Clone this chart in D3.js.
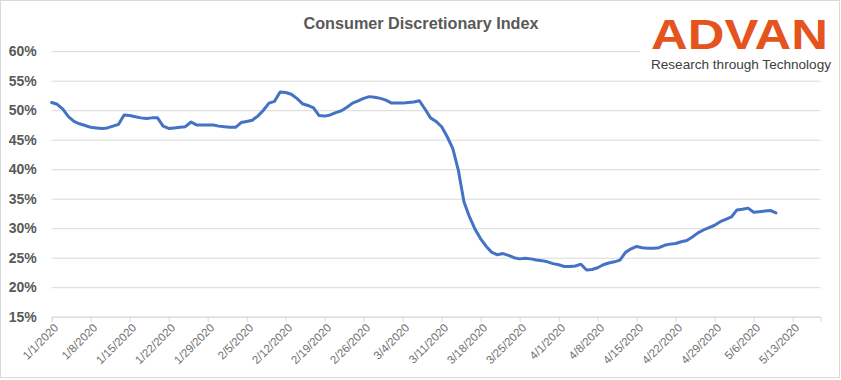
<!DOCTYPE html>
<html>
<head>
<meta charset="utf-8">
<script src="https://cdn.jsdelivr.net/npm/d3@7"></script>
<style>
  html, body { margin: 0; padding: 0; background: #fff; }
  svg { display: block; }
</style>
</head>
<body>
<svg id="chart"></svg>
<script>
// daily index values, starting 1/1/2020 (percent)
const startLabel = '1/1/2020';
const endLabel = '5/18/2020';
const values = [
  51.3, 51.0, 50.2, 48.9, 48.1, 47.7, 47.4, 47.1, 47.0, 46.9,
  47.0, 47.3, 47.6, 49.2, 49.1, 48.9, 48.7, 48.6, 48.7, 48.7,
  47.3, 46.9, 47.0, 47.1, 47.2, 48.0, 47.5, 47.5, 47.5, 47.5,
  47.3, 47.2, 47.1, 47.1, 47.9, 48.1, 48.3, 49.0, 50.0, 51.2,
  51.5, 53.1, 53.0, 52.7, 52.0, 51.1, 50.8, 50.4, 49.1, 49.0,
  49.2, 49.6, 49.9, 50.5, 51.2, 51.6, 52.0, 52.3, 52.2, 52.0,
  51.7, 51.2, 51.2, 51.2, 51.3, 51.4, 51.6, 50.2, 48.7, 48.1,
  47.2, 45.5, 43.5, 39.8, 34.5, 31.9, 29.8, 28.2, 26.9, 25.9,
  25.5, 25.7, 25.4, 25.0, 24.8, 24.9, 24.8, 24.6, 24.5, 24.3,
  24.0, 23.8, 23.5, 23.5, 23.6, 23.9, 22.9, 23.0, 23.3, 23.8,
  24.1, 24.3, 24.6, 25.9, 26.5, 26.9, 26.7, 26.6, 26.6, 26.7,
  27.1, 27.3, 27.4, 27.7, 27.9, 28.5, 29.2, 29.7, 30.1, 30.5,
  31.1, 31.5, 31.9, 33.1, 33.2, 33.4, 32.7, 32.8, 32.9, 33.0,
  32.6
];
const tickLabels = [
  '1/1/2020', '1/8/2020', '1/15/2020', '1/22/2020', '1/29/2020',
  '2/5/2020', '2/12/2020', '2/19/2020', '2/26/2020', '3/4/2020',
  '3/11/2020', '3/18/2020', '3/25/2020', '4/1/2020', '4/8/2020',
  '4/15/2020', '4/22/2020', '4/29/2020', '5/6/2020', '5/13/2020'
];
const yTicks = [15, 20, 25, 30, 35, 40, 45, 50, 55, 60];

const title = 'Consumer Discretionary Index';
const logoText = 'ADVAN';
const logoTag = 'Research through Technology';

const W = 841, H = 380;
const parse = d3.utcParse('%m/%d/%Y');
const fmt = d => (d.getUTCMonth() + 1) + '/' + d.getUTCDate() + '/' + d.getUTCFullYear();

const start = parse(startLabel);
const data = values.map((v, i) => ({date: d3.utcDay.offset(start, i), value: v}));

const svg = d3.select('#chart')
    .attr('width', W)
    .attr('height', H)
    .style('font-family', '"Liberation Sans", Arial, sans-serif');

// chart border
svg.append('rect')
    .attr('x', 0.5).attr('y', 0.5)
    .attr('width', W - 2).attr('height', H - 3)
    .attr('fill', '#fff')
    .attr('stroke', '#d9d9d9');

const x = d3.scaleUtc()
    .domain([start, parse(endLabel)])
    .range([51.7, 820.5]);

const y = d3.scaleLinear()
    .domain([15, 60])
    .range([316.7, 51.2]);

// gridlines + y labels
const yAxis = svg.append('g')
    .attr('transform', 'translate(51.7,0)')
    .call(d3.axisLeft(y)
        .tickValues(yTicks)
        .tickSize(-(x.range()[1] - x.range()[0]))
        .tickPadding(15)
        .tickFormat(d => d + '%'));
yAxis.select('.domain').remove();
yAxis.selectAll('line').attr('stroke', '#d9d9d9');
yAxis.selectAll('text')
    .attr('fill', '#595959')
    .style('font-size', '14px')
    .style('font-weight', 'bold')
    .style('font-family', '"Liberation Sans", Arial, sans-serif');

// x axis
const xAxis = svg.append('g')
    .attr('transform', 'translate(0,' + y(15) + ')')
    .call(d3.axisBottom(x)
        .tickValues(tickLabels.map(parse))
        .tickSize(5)
        .tickFormat(fmt));
xAxis.select('.domain').attr('stroke', '#d9d9d9');
xAxis.selectAll('line').attr('stroke', '#d9d9d9');
xAxis.selectAll('text')
    .attr('fill', '#6f6f6f')
    .attr('x', 0)
    .attr('y', 0)
    .attr('dy', '0.35em')
    .attr('text-anchor', 'end')
    .attr('transform', 'translate(4,9) rotate(-45)')
    .style('font-size', '11.5px')
    .style('font-family', '"Liberation Sans", Arial, sans-serif');

// line
const line = d3.line()
    .x(d => x(d.date))
    .y(d => y(d.value));
svg.append('path')
    .datum(data)
    .attr('fill', 'none')
    .attr('stroke', '#4472c4')
    .attr('stroke-width', 3)
    .attr('stroke-linejoin', 'round')
    .attr('stroke-linecap', 'round')
    .attr('d', line);

// title
svg.append('text')
    .attr('x', 421)
    .attr('y', 29)
    .attr('text-anchor', 'middle')
    .attr('fill', '#595959')
    .style('font-size', '16px')
    .style('font-weight', 'bold')
    .attr('textLength', 235)
    .attr('lengthAdjust', 'spacingAndGlyphs')
    .text(title);

// logo block (white background hides gridline under it)
svg.append('rect')
    .attr('x', 640).attr('y', 8)
    .attr('width', 196).attr('height', 68)
    .attr('fill', '#fff');
svg.append('text')
    .attr('x', 651)
    .attr('y', 49)
    .attr('fill', '#e5531f')
    .style('font-size', '42px')
    .style('font-weight', 'bold')
    .attr('textLength', 177)
    .attr('lengthAdjust', 'spacingAndGlyphs')
    .text(logoText);
svg.append('text')
    .attr('x', 651)
    .attr('y', 69)
    .attr('fill', '#404040')
    .style('font-size', '13.5px')
    .attr('textLength', 180)
    .attr('lengthAdjust', 'spacingAndGlyphs')
    .text(logoTag);
</script>
</body>
</html>
